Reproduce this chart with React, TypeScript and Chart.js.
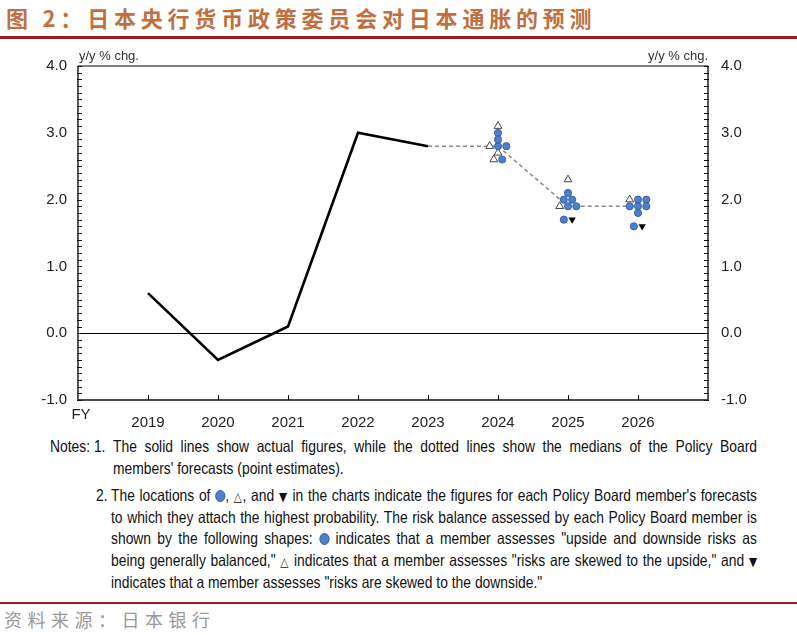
import React, { useEffect, useRef } from "react";
import { Chart, registerables } from "chart.js";

Chart.register(...registerables);

// ---------------- data ----------------
const yearLabels = [2019, 2020, 2021, 2022, 2023, 2024, 2025, 2026];
const actualYears = [2019, 2020, 2021, 2022, 2023];
const actualValues = [0.6, -0.4, 0.1, 3.0, 2.8];
const medianYears = [2023, 2024, 2025, 2026];
const medianValues = [2.8, 2.8, 1.9, 1.9];
const forecastYears = [2024, 2025, 2026];
// Policy Board members' forecasts, grouped by risk assessment (one list per forecast year)
const upsideRisk = [[3.1, 2.8, 2.7, 2.6], [2.3, 1.9], [2.0]];
const balancedRisk = [
  [3.0, 2.9, 2.8, 2.8, 2.6],
  [2.1, 2.0, 2.0, 1.9, 1.9, 1.7],
  [2.0, 2.0, 1.9, 1.9, 1.9, 1.8, 1.6],
];
const downsideRisk = [[], [1.7], [1.6]];
const yMin = -1;
const yMax = 4;
const xMin = 2018;
const xMax = 2027;
const unitLabel = "y/y % chg.";
const fyLabel = "FY";

const TICK_FONT = "'Liberation Sans', Arial, sans-serif";
const DODGE = 0.119; // horizontal spread (in years) between members with equal forecasts

type Pt = { x: number; y: number };

function buildMarkers() {
  const out: Pt[][] = [[], [], []];
  forecastYears.forEach((yr, i) => {
    const members = [
      ...upsideRisk[i].map((v) => ({ v, k: 0 })),
      ...balancedRisk[i].map((v) => ({ v, k: 1 })),
      ...downsideRisk[i].map((v) => ({ v, k: 2 })),
    ];
    const groups = new Map<string, { v: number; k: number }[]>();
    members.forEach((m) => {
      const key = m.v.toFixed(1);
      if (!groups.has(key)) groups.set(key, []);
      groups.get(key)!.push(m);
    });
    groups.forEach((g) => {
      g.forEach((m, j) => {
        out[m.k].push({ x: yr + (j - (g.length - 1) / 2) * DODGE, y: m.v });
      });
    });
  });
  return out;
}

const framePlugin = {
  id: "frame",
  beforeDatasetsDraw(chart: any) {
    const { ctx, chartArea } = chart;
    const y = chart.scales.y;
    ctx.save();
    ctx.strokeStyle = "#000";
    ctx.lineWidth = 1;
    const y0 = Math.round(y.getPixelForValue(0)) + 0.5;
    ctx.beginPath();
    ctx.moveTo(chartArea.left, y0);
    ctx.lineTo(chartArea.right, y0);
    ctx.stroke();
    ctx.restore();
  },
  afterDraw(chart: any) {
    const { ctx, chartArea } = chart;
    const { left, right, top, bottom } = chartArea;
    const y = chart.scales.y;
    const x = chart.scales.x;
    ctx.save();
    ctx.strokeStyle = "#808080";
    ctx.lineWidth = 2;
    ctx.beginPath();
    ctx.moveTo(left, top);
    ctx.lineTo(right, top);
    ctx.stroke();
    ctx.strokeStyle = "#111";
    ctx.lineWidth = 1.4;
    ctx.beginPath();
    ctx.moveTo(left, top);
    ctx.lineTo(left, bottom);
    ctx.lineTo(right, bottom);
    ctx.lineTo(right, top);
    ctx.stroke();
    ctx.lineWidth = 1;
    ctx.beginPath();
    for (let i = 0; i <= (yMax - yMin) * 10; i++) {
      const v = yMin + i / 10;
      const py = Math.round(y.getPixelForValue(v)) + 0.5;
      ctx.moveTo(left - 1, py);
      ctx.lineTo(left + 4, py);
      ctx.moveTo(right + 1, py);
      ctx.lineTo(right - 4, py);
    }
    yearLabels.forEach((yr) => {
      const px = Math.round(x.getPixelForValue(yr)) + 0.5;
      ctx.moveTo(px, bottom);
      ctx.lineTo(px, bottom - 5);
    });
    ctx.stroke();
    ctx.fillStyle = "#222";
    ctx.font = `15px ${TICK_FONT}`;
    ctx.textAlign = "center";
    ctx.textBaseline = "middle";
    ctx.fillText(fyLabel, x.getPixelForValue(xMin) + 3, bottom + 15);
    ctx.font = `13px ${TICK_FONT}`;
    ctx.fillStyle = "#333";
    ctx.textBaseline = "alphabetic";
    ctx.textAlign = "left";
    ctx.fillText(unitLabel, left + 1, top - 6);
    ctx.textAlign = "right";
    ctx.fillText(unitLabel, right, top - 6);
    ctx.restore();
  },
};

function ChartBox() {
  const ref = useRef<HTMLCanvasElement>(null);
  useEffect(() => {
    const markers = buildMarkers();
    const tickFont = { family: TICK_FONT, size: 15 };
    const yAxis = (pos: "left" | "right", width: number, pad: number) => ({
      type: "linear" as const,
      position: pos,
      min: yMin,
      max: yMax,
      grid: { display: false, drawTicks: false },
      border: { display: false },
      ticks: {
        stepSize: 1,
        padding: pad,
        font: tickFont,
        color: "#222",
        callback: (v: any) => Number(v).toFixed(1),
      },
      afterFit: (s: any) => {
        s.width = width;
      },
    });
    const chart = new Chart(ref.current!, {
      type: "scatter",
      data: {
        datasets: [
          {
            label: "balanced",
            data: markers[1],
            pointStyle: "circle",
            pointRadius: 3.6,
            backgroundColor: "#4F80CC",
            borderColor: "#2A5597",
            borderWidth: 0.8,
          },
          {
            label: "upside",
            data: markers[0],
            pointStyle: "triangle",
            pointRadius: 4.5,
            backgroundColor: "#ffffff",
            borderColor: "#333",
            borderWidth: 0.9,
          },
          {
            label: "downside",
            data: markers[2],
            pointStyle: "triangle",
            pointRotation: 180,
            pointRadius: 4.2,
            backgroundColor: "#000",
            borderColor: "#000",
            borderWidth: 0,
          },
          {
            label: "median",
            data: medianYears.map((yr, i) => ({ x: yr, y: medianValues[i] })),
            showLine: true,
            borderColor: "#8a8a8a",
            borderWidth: 1.5,
            borderDash: [4, 3],
            pointRadius: 0,
          },
          {
            label: "actual",
            data: actualYears.map((yr, i) => ({ x: yr, y: actualValues[i] })),
            showLine: true,
            borderColor: "#000",
            borderWidth: 2.6,
            pointRadius: 0,
          },
        ],
      },
      options: {
        animation: false,
        responsive: false,
        layout: { padding: { top: 26, left: 0, right: 0, bottom: 0 } },
        plugins: { legend: { display: false }, tooltip: { enabled: false } },
        scales: {
          x: {
            type: "linear",
            min: xMin,
            max: xMax,
            grid: { display: false, drawTicks: false },
            border: { display: false },
            ticks: {
              stepSize: 1,
              autoSkip: false,
              maxRotation: 0,
              padding: 14,
              font: tickFont,
              color: "#222",
              callback: (v: any) => (yearLabels.includes(Number(v)) ? String(v) : ""),
            },
            afterFit: (s: any) => {
              s.height = 35;
            },
          },
          y: yAxis("left", 78, 11),
          y2: yAxis("right", 89, 13),
        },
      },
      plugins: [framePlugin],
    } as any);
    return () => chart.destroy();
  }, []);
  return (
    <canvas
      ref={ref}
      width={797}
      height={395}
      style={{ position: "absolute", left: 0, top: 40, width: 797, height: 395 }}
    />
  );
}

// ---------------- notes ----------------
const NOTE_FONT = "'Liberation Sans', Arial, sans-serif";
const SX = 0.84; // horizontal condensing of the note text

function Circle() {
  return (
    <span
      style={{
        display: "inline-block",
        width: 12,
        height: 12,
        borderRadius: "50%",
        background: "#4F80CC",
        border: "1px solid #2A5597",
        verticalAlign: "-1px",
        boxSizing: "border-box",
      }}
    />
  );
}
function Sym(props: { c: string }) {
  return <span style={{ fontFamily: "'DejaVu Sans', sans-serif", fontSize: 12.5 }}>{props.c}</span>;
}

const note1Lines: React.ReactNode[] = [
  "The solid lines show actual figures, while the dotted lines show the medians of the Policy Board",
  "members' forecasts (point estimates).",
];
const note2Lines: React.ReactNode[] = [
  <>The locations of <Circle />, <Sym c="△" />, and <Sym c="▼" /> in the charts indicate the figures for each Policy Board member's forecasts</>,
  "to which they attach the highest probability. The risk balance assessed by each Policy Board member is",
  <>shown by the following shapes: <Circle /> indicates that a member assesses "upside and downside risks as</>,
  <>being generally balanced," <Sym c="△" /> indicates that a member assesses "risks are skewed to the upside," and <Sym c="▼" /></>,
  'indicates that a member assesses "risks are skewed to the downside."',
];

function Note(props: { left: number; top: number; width: number; label: string; labelWidth: number; lines: React.ReactNode[] }) {
  const { left, top, width, label, labelWidth, lines } = props;
  return (
    <div style={{ position: "absolute", left, top, width }}>
      <div
        style={{
          width: width / SX,
          transform: `scaleX(${SX})`,
          transformOrigin: "0 0",
          display: "flex",
          fontFamily: NOTE_FONT,
          fontSize: 16.5,
          lineHeight: "21.7px",
          color: "#111",
        }}
      >
        <div style={{ width: labelWidth / SX, flex: "none" }}>{label}</div>
        <div style={{ flex: 1 }}>
          {lines.map((ln, i) => (
            <div
              key={i}
              style={{
                height: 21.7,
                textAlign: "justify",
                textAlignLast: i === lines.length - 1 ? "left" : "justify",
              }}
            >
              {ln}
            </div>
          ))}
        </div>
      </div>
    </div>
  );
}

export default function App() {
  return (
    <div
      style={{
        position: "absolute",
        left: 0,
        top: 0,
        width: 797,
        height: 635,
        background: "#fff",
        overflow: "hidden",
      }}
    >
      <div
        style={{
          position: "absolute",
          left: 6,
          top: 3,
          fontFamily: "'Noto Sans CJK SC', sans-serif",
          fontWeight: 700,
          fontSize: 22,
          letterSpacing: 4.8,
          lineHeight: "28px",
          color: "#C0703F",
          whiteSpace: "nowrap",
        }}
      >
        图 2：日本央行货币政策委员会对日本通胀的预测
      </div>
      <div style={{ position: "absolute", left: 0, top: 36, width: 797, height: 3, background: "#9B1C20" }} />
      <ChartBox />
      <Note left={50} top={436} width={707} label="Notes: 1." labelWidth={63} lines={note1Lines} />
      <Note left={96} top={485} width={661} label="2." labelWidth={15} lines={note2Lines} />
      <div style={{ position: "absolute", left: 0, top: 602, width: 797, height: 2, background: "#9B1C20" }} />
      <div
        style={{
          position: "absolute",
          left: 4,
          top: 606,
          fontFamily: "'Noto Sans CJK SC', sans-serif",
          fontSize: 18,
          letterSpacing: 5.5,
          lineHeight: "26px",
          color: "#999",
          whiteSpace: "nowrap",
        }}
      >
        资料来源：日本银行
      </div>
    </div>
  );
}
